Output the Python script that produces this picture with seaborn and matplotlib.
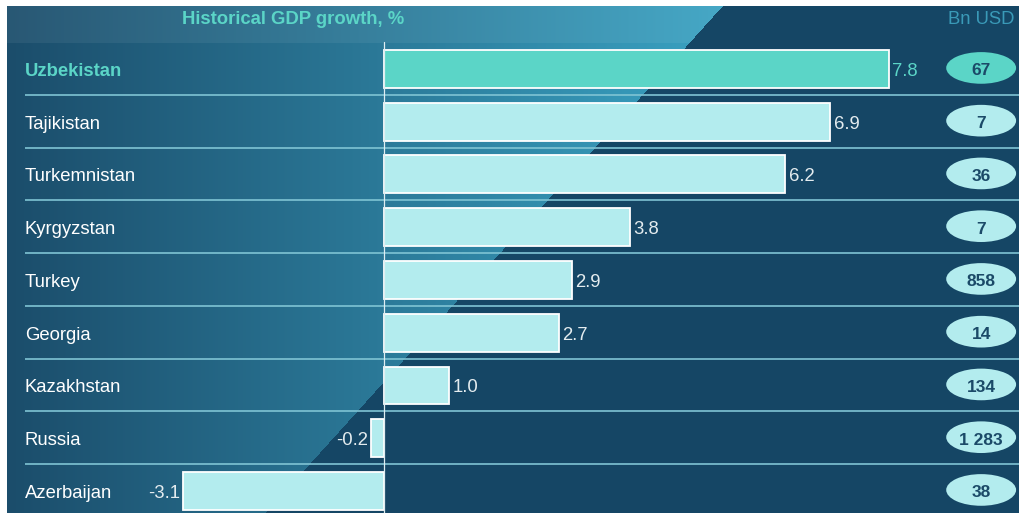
import numpy as np
import pandas as pd
import matplotlib.pyplot as plt
import seaborn as sns
from matplotlib.patches import Ellipse
from matplotlib.colors import to_rgb

# Data
countries = ['Uzbekistan', 'Tajikistan', 'Turkemnistan', 'Kyrgyzstan', 'Turkey',
             'Georgia', 'Kazakhstan', 'Russia', 'Azerbaijan']
gdp_growth = [7.8, 6.9, 6.2, 3.8, 2.9, 2.7, 1.0, -0.2, -3.1]
gdp_bn_usd = ['67', '7', '36', '7', '858', '14', '134', '1 283', '38']

# Colours
navy = '#164766'
teal = '#5bd5c7'
light = '#b3ecee'
label_col = '#e4ecef'
pill_text = '#1b4a68'
line_col = '#7fc4d4'

sns.set_style('white')
plt.rcParams['font.family'] = ['Liberation Sans', 'DejaVu Sans']

fig = plt.figure(figsize=(10.19, 5.13), dpi=100, facecolor='white')
ax = fig.add_axes([7 / 1019, 0, 1012 / 1019, 507 / 513])

# Background: gradient on the left of a diagonal, navy on the right
h, w = 507, 1012
yy, xx = np.mgrid[0:h, 0:w]
diag_x = 715 - (715 - 258) * yy / h
t = np.clip(xx / 715, 0, 1)[..., None]
c0 = np.array(to_rgb('#1b4d6b'))
c1 = np.array(to_rgb('#3aa2c2'))
img = c0 * (1 - t) + c1 * t
header = (yy < 37)[..., None]
img = np.where(header, img * 0.94 + 0.06, img)
img[xx > diag_x] = to_rgb(navy)
ax.imshow(img, extent=[0, 1, 0, 1], transform=ax.transAxes, aspect='auto', zorder=0)

df = pd.DataFrame({'country': countries, 'growth': gdp_growth})
palette = {c: (teal if i == 0 else light) for i, c in enumerate(countries)}
sns.barplot(data=df, x='growth', y='country', hue='country', palette=palette,
            orient='h', width=0.72, edgecolor='white', linewidth=1.3,
            legend=False, ax=ax, zorder=3, saturation=1)

ax.set_xlim(-5.827, 9.815)
ax.set_ylim(8.417, -1.194)
ax.set_axis_off()

# Separator lines
for i in range(len(countries) - 1):
    ax.plot([-5.55, 9.815], [i + 0.49, i + 0.49], color=line_col, lw=1.2, zorder=2,
            solid_capstyle='butt')
# Zero line
ax.plot([0, 0], [-0.51, 8.417], color='#dfeef2', lw=0.9, zorder=4)

# Labels
for i, (c, v, b) in enumerate(zip(countries, gdp_growth, gdp_bn_usd)):
    first = i == 0
    ax.text(-5.55, i + 0.13, c, color=teal if first else 'white', fontsize=13.3,
            fontweight='bold' if first else 'normal', va='baseline', ha='left', zorder=5)
    ax.annotate(f'{v:.1f}', (v, i + 0.13), xytext=(2.5 if v >= 0 else -2.5, 0),
                textcoords='offset points', ha='left' if v >= 0 else 'right',
                va='baseline', color=teal if first else label_col, fontsize=13.3, zorder=5)
    ax.add_patch(Ellipse((9.23, i - 0.02), 1.08, 0.6, facecolor=teal if first else light,
                         edgecolor='none', zorder=5))
    ax.text(9.23, i + 0.12, b, color=pill_text, fontsize=12.5, fontweight='bold',
            ha='center', va='baseline', zorder=6)

ax.text(-1.41, -0.85, 'Historical GDP growth, %', color=teal, fontsize=13.3,
        fontweight='bold', ha='center', va='baseline', zorder=5)
ax.text(9.75, -0.85, 'Bn USD', color='#3a9ab8', fontsize=13.3, ha='right',
        va='baseline', zorder=5)

fig.savefig('out.png', dpi=100, facecolor='white')
